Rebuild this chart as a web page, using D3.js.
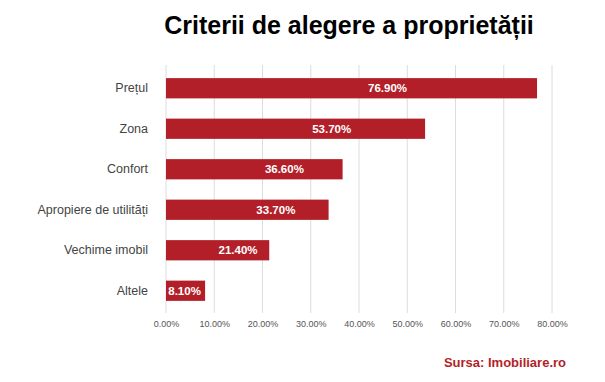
<!DOCTYPE html>
<html><head><meta charset="utf-8">
<script src="https://cdn.jsdelivr.net/npm/d3@7"></script>
<style>body{margin:0;background:#fff}svg{display:block}</style>
</head><body>
<script>
const categories = ["Prețul","Zona","Confort","Apropiere de utilități","Vechime imobil","Altele"];
const values = [76.9, 53.7, 36.6, 33.7, 21.4, 8.1];
const tickValues = [0,10,20,30,40,50,60,70,80];
const title = "Criterii de alegere a proprietății";
const source = "Sursa: Imobiliare.ro";

const W = 605, H = 382;
const svg = d3.select("body").append("svg").attr("width", W).attr("height", H);
const font = "'Liberation Sans', Arial, sans-serif";

const x = d3.scaleLinear().domain([0, 80]).range([166, 552]);
const y = d3.scaleBand().domain(categories).range([68, 311]).paddingInner(0.5).paddingOuter(0.25);

// grid
svg.append("g").selectAll("line").data(tickValues).join("line")
  .attr("x1", d => x(d)).attr("x2", d => x(d))
  .attr("y1", 65).attr("y2", 313)
  .attr("stroke", "#dcdcdc").attr("stroke-width", 1);

// x axis labels
const xAxis = d3.axisBottom(x).tickValues(tickValues).tickSize(0).tickFormat(d => d.toFixed(2) + "%");
const gx = svg.append("g").attr("transform", "translate(0,318)").call(xAxis);
gx.select(".domain").remove();
gx.selectAll("text").attr("font-family", font).attr("font-size", 9).attr("fill", "#555");

// y axis labels
const yAxis = d3.axisLeft(y).tickSize(0).tickPadding(0);
const gy = svg.append("g").attr("transform", "translate(148,0)").call(yAxis);
gy.select(".domain").remove();
gy.selectAll("text").attr("font-family", font).attr("font-size", 12.5).attr("fill", "#444");

// bars
const data = categories.map((c, i) => ({c, v: values[i]}));
svg.append("g").selectAll("rect").data(data).join("rect")
  .attr("x", x(0)).attr("y", d => y(d.c))
  .attr("width", d => x(d.v) - x(0)).attr("height", y.bandwidth())
  .attr("fill", "#b31f28");

// value labels placed inside the bar, biased toward the end as in the source chart
function labelX(v) {
  const w = x(v) - x(0);
  const c = x(0) + 0.737 * w - 0.000377 * w * w;
  return Math.min(c, x(v) - 20.5);
}
svg.append("g").selectAll("text").data(data).join("text")
  .attr("x", d => labelX(d.v)).attr("y", d => y(d.c) + y.bandwidth() / 2)
  .attr("dy", "0.36em").attr("text-anchor", "middle")
  .attr("font-family", font).attr("font-size", 11.5).attr("font-weight", "bold")
  .attr("fill", "#fff").text(d => d.v.toFixed(2) + "%");

// title
svg.append("text").attr("x", 349).attr("y", 34).attr("text-anchor", "middle")
  .attr("font-family", font).attr("font-size", 25).attr("font-weight", "bold")
  .attr("fill", "#000").text(title);

// source
svg.append("text").attr("x", 566).attr("y", 367).attr("text-anchor", "end")
  .attr("font-family", font).attr("font-size", 13).attr("font-weight", "bold")
  .attr("fill", "#b31f28").text(source);
</script>
</body></html>
